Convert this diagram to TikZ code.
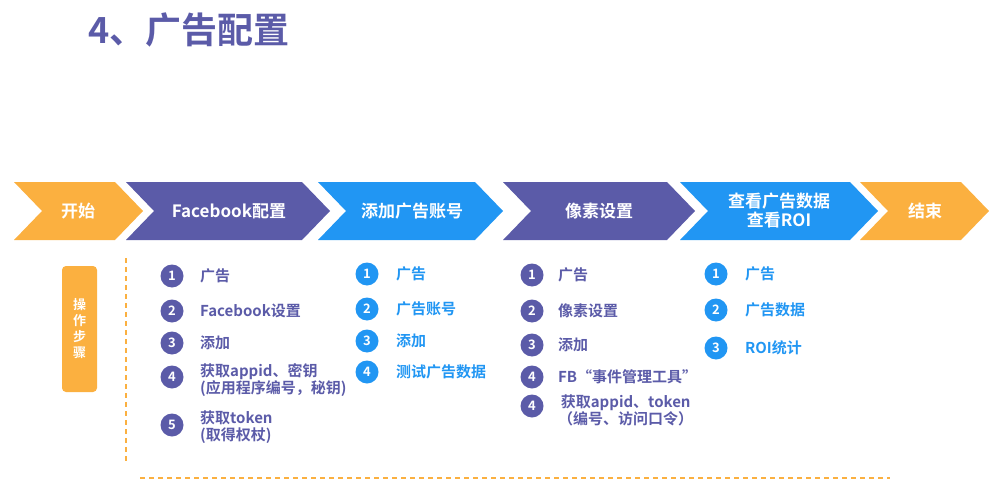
\documentclass[tikz,border=0pt]{standalone}
\usepackage{fontspec}
\setmainfont{Noto Sans CJK SC}[BoldFont={* Bold}]
\definecolor{pur}{HTML}{5B5BA8}
\definecolor{blu}{HTML}{2196F3}
\definecolor{org}{HTML}{FBB040}
\begin{document}
\begin{tikzpicture}[x=1pt,y=-1pt,
  htxt/.style={text=white,font=\bfseries\fontsize{17}{19}\selectfont,align=center},
  num/.style={circle,fill=#1,text=white,minimum size=23pt,inner sep=0pt,font=\bfseries\fontsize{13}{13}\selectfont},
  item/.style={text=#1,anchor=west,font=\bfseries\fontsize{15}{17}\selectfont,align=left,inner sep=0pt}]
\useasboundingbox (0,0) rectangle (995,500);
\node[anchor=west,text=pur,font=\bfseries\fontsize{36}{38}\selectfont,inner sep=0pt] (title) at (88,30) {4、广告配置};
% chevrons
\def\chevron#1#2#3{\fill[#1] (#2,182) -- (#3,182) -- (#3+28,211) -- (#3,240) -- (#2,240) -- (#2+28,211) -- cycle;}
\chevron{org}{14}{115}
\chevron{pur}{126}{302}
\chevron{blu}{318}{475}
\chevron{pur}{503}{667}
\chevron{blu}{680}{850}
\chevron{org}{860}{961}
\node[htxt] (h1) at (78,211) {开始};
\node[htxt] (h2) at (229,211) {Facebook配置};
\node[htxt] (h3) at (412,211) {添加广告账号};
\node[htxt] (h4) at (599,211) {像素设置};
\node[htxt] (h5) at (779,211) {查看广告数据\\查看ROI};
\node[htxt] (h6) at (925,211) {结束};
% side box
\node[fill=org,rounded corners=4pt,minimum width=35pt,minimum height=126pt,text=white,font=\bfseries\fontsize{13}{16}\selectfont,align=center,inner sep=0pt] (steps) at (79.5,329) {操\\作\\步\\骤};
\coordinate (v1) at (126,258); \coordinate (v2) at (126,463);
\coordinate (l1) at (140,478); \coordinate (l2) at (890,478);
\draw[org,line width=1.2pt,dash pattern=on 5pt off 4pt] (v1) -- (v2);
\draw[org,line width=1.2pt,dash pattern=on 5pt off 4pt] (l1) -- (l2);
% column 1
\foreach \n/\y/\t [count=\i] in {1/276/广告,2/311/Facebook设置,3/343/添加}{
  \node[num=pur] (a\i) at (172,\y) {\n};
  \node[item=pur] (at\i) at (200,\y) {\t};}
\node[num=pur] (a4) at (172,377) {4};
\node[item=pur,anchor=north west] (at4) at (200,363) {获取appid、密钥\\(应用程序编号，秘钥)};
\node[num=pur] (a5) at (172,425) {5};
\node[item=pur,anchor=north west] (at5) at (200,411) {获取token\\(取得权杖)};
% column 2
\foreach \n/\y/\t in {1/274/广告,2/309/广告账号,3/341/添加,4/372/测试广告数据}{
  \node[num=blu] (b\n) at (367,\y) {\n};
  \node[item=blu] (bt\n) at (396,\y) {\t};}
% column 3
\foreach \n/\y/\t [count=\i] in {1/275/广告,2/311/像素设置,3/345/添加,4/377/FB“事件管理工具”}{
  \node[num=pur] (c\i) at (532,\y) {\n};
  \node[item=pur] (ct\i) at (558,\y) {\t};}
\node[num=pur] (c5) at (532,406) {4};
\node[item=pur,anchor=north west,align=center] (ct5) at (558,395) {获取appid、token\\（编号、访问口令）};
% column 4
\foreach \n/\y/\t in {1/274/广告,2/310/广告数据,3/348/ROI统计}{
  \node[num=blu] (d\n) at (716,\y) {\n};
  \node[item=blu] (dt\n) at (745,\y) {\t};}
\end{tikzpicture}
\end{document}
